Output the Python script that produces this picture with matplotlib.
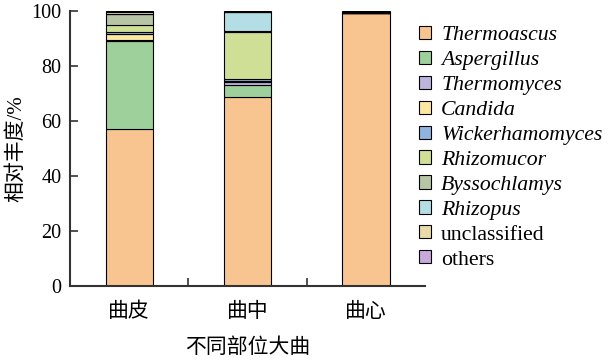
import matplotlib.pyplot as plt
import numpy as np
from matplotlib.patches import Patch

plt.rcParams['font.family'] = ['Liberation Serif', 'Noto Sans CJK SC']

# sample positions
groups = ['曲皮', '曲中', '曲心']

# genera, bottom to top
genera = ['Thermoascus', 'Aspergillus', 'Thermomyces', 'Candida', 'Wickerhamomyces',
          'Rhizomucor', 'Byssochlamys', 'Rhizopus', 'unclassified', 'others']
italic = [True, True, True, True, True, True, True, True, False, False]

# relative abundance (%) per genus, one value per group
thermoascus = [57.0, 68.6, 99.4]
aspergillus = [32.0, 4.6, 0.0]
thermomyces = [0.4, 1.0, 0.0]
candida = [2.2, 0.5, 0.0]
wickerhamomyces = [0.8, 0.6, 0.0]
rhizomucor = [2.6, 17.0, 0.0]
byssochlamys = [3.8, 0.3, 0.0]
rhizopus = [0.2, 6.9, 0.0]
unclassified = [0.5, 0.2, 0.3]
others = [0.5, 0.3, 0.3]

values = [thermoascus, aspergillus, thermomyces, candida, wickerhamomyces,
          rhizomucor, byssochlamys, rhizopus, unclassified, others]
colors = ['#F8C590', '#9DD09A', '#BDB3DC', '#FCE8A2', '#8FB4DE',
          '#CFE096', '#B7C4A5', '#B3DEE6', '#E8DBA8', '#C7A9DA']

fig = plt.figure(figsize=(6.11, 3.62), dpi=100)
ax = fig.add_axes([0.1146, 0.21, 0.581, 0.7596])

x = np.arange(len(groups))
bottom = np.zeros(len(groups))
for vals, c in zip(values, colors):
    ax.bar(x, vals, width=0.4, bottom=bottom, color=c, edgecolor='black', linewidth=0.8)
    bottom += np.array(vals)

ax.set_xlim(-0.5, 2.5)
ax.set_ylim(0, 100)
ax.set_yticks([0, 20, 40, 60, 80, 100])
ax.set_xticks([0.5, 1.5])
ax.set_xticklabels([])
ax.set_xticks(x, minor=True)
ax.set_xticklabels(groups, minor=True, fontsize=15)
ax.tick_params(axis='x', which='minor', length=0, pad=12)
ax.tick_params(axis='x', which='major', direction='in', length=6, width=1.2, color='#333333')
ax.tick_params(axis='y', direction='in', length=6, width=1.2, color='#333333',
               labelsize=14.5, pad=6)
for s in ['top', 'right']:
    ax.spines[s].set_visible(False)
for s in ['left', 'bottom']:
    ax.spines[s].set_linewidth(1.5)
    ax.spines[s].set_color('#333333')

ax.set_ylabel('相对丰度/%', fontsize=15, labelpad=4)
ax.set_xlabel('不同部位大曲', fontsize=15, labelpad=12)

handles = [Patch(facecolor=c, edgecolor='black', linewidth=0.8) for c in colors]
leg = fig.legend(handles, genera, loc='upper left', bbox_to_anchor=(0.672, 0.953),
                 frameon=False, fontsize=15.7, handlelength=0.55, handleheight=0.55,
                 handletextpad=0.45, labelspacing=0.26, borderaxespad=0)
for t, it in zip(leg.get_texts(), italic):
    if it:
        t.set_fontstyle('italic')

fig.savefig('out.png', dpi=100)
